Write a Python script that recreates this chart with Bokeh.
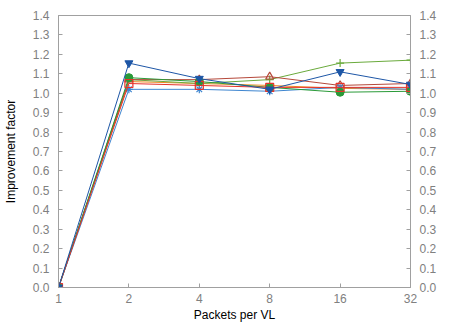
from bokeh.plotting import figure
from bokeh.models import Range1d, LinearAxis, FixedTicker, NumeralTickFormatter
from bokeh.embed import file_html
from bokeh.resources import INLINE

packets = [1, 2, 4, 8, 16, 32]
blue_tri = [0, 1.155, 1.075, 1.02, 1.11, 1.045]
green_plus = [0, 1.07, 1.05, 1.07, 1.155, 1.17]
brown_tri = [0, 1.07, 1.07, 1.085, 1.04, 1.05]
red_sq = [0, 1.05, 1.04, 1.03, 1.03, 1.03]
orange = [0, 1.06, 1.05, 1.04, 1.025, 1.02]
lightblue_x = [0, 1.02, 1.02, 1.01, 1.03, 1.02]
green_circ = [0, 1.08, 1.06, 1.03, 1.005, 1.01]
yticks = [0.0, 0.1, 0.2, 0.3, 0.4, 0.5, 0.6, 0.7, 0.8, 0.9, 1.0, 1.1, 1.2, 1.3, 1.4]

AX = "#a0a0a0"
TL = "#808080"
FONT = "Liberation Sans"

p = figure(width=465, height=324, output_backend="svg", toolbar_location=None,
           x_axis_type="log", x_range=Range1d(1, 32), y_range=Range1d(0, 1.4),
           min_border_left=57, min_border_right=55, min_border_top=15, min_border_bottom=34)
p.grid.visible = False
p.outline_line_color = AX
p.background_fill_color = "white"
p.border_fill_color = "white"

p.add_layout(LinearAxis(), "right")

for ax in p.axis:
    ax.axis_line_color = AX
    ax.major_tick_line_color = AX
    ax.major_tick_in = 4
    ax.major_tick_out = 0
    ax.minor_tick_line_color = None
    ax.major_label_text_color = TL
    ax.major_label_text_font = FONT
    ax.major_label_text_font_size = "12px"
    ax.axis_label_text_font = FONT
    ax.axis_label_text_font_size = "12px"
    ax.axis_label_text_font_style = "normal"
    ax.axis_label_text_color = "black"

p.xaxis.ticker = FixedTicker(ticks=packets)
p.xaxis.major_label_overrides = {v: str(v) for v in packets}
p.xaxis.axis_label = "Packets per VL"
p.xaxis.major_label_standoff = 6
p.xaxis.axis_label_standoff = 2

for ax in p.yaxis:
    ax.ticker = FixedTicker(ticks=yticks)
    ax.formatter = NumeralTickFormatter(format="0.0")
    ax.major_label_standoff = 9
p.yaxis[0].axis_label = "Improvement factor"
p.yaxis[0].axis_label_standoff = 12

series = [
    (orange, "#f08a24", None),
    (green_plus, "#6aaa3c", "cross"),
    (brown_tri, "#b5483a", "triangle"),
    (lightblue_x, "#3f86d0", "asterisk"),
    (green_circ, "#2a9a38", "circle"),
    (red_sq, "#e5332a", "square"),
    (blue_tri, "#1d56a6", "inverted_triangle"),
]

for ys, col, mk in series:
    p.line(packets, ys, line_color=col, line_width=1)
    if mk is None:
        continue
    if mk in ("triangle", "square"):
        p.scatter(packets, ys, marker=mk, size=8, line_color=col, fill_color=None, line_width=1.2)
    elif mk in ("cross", "asterisk"):
        p.scatter(packets, ys, marker=mk, size=8, line_color=col, line_width=1.2)
    else:
        p.scatter(packets, ys, marker=mk, size=8, line_color=col, fill_color=col)

open("out.html", "w").write(file_html(p, INLINE))
